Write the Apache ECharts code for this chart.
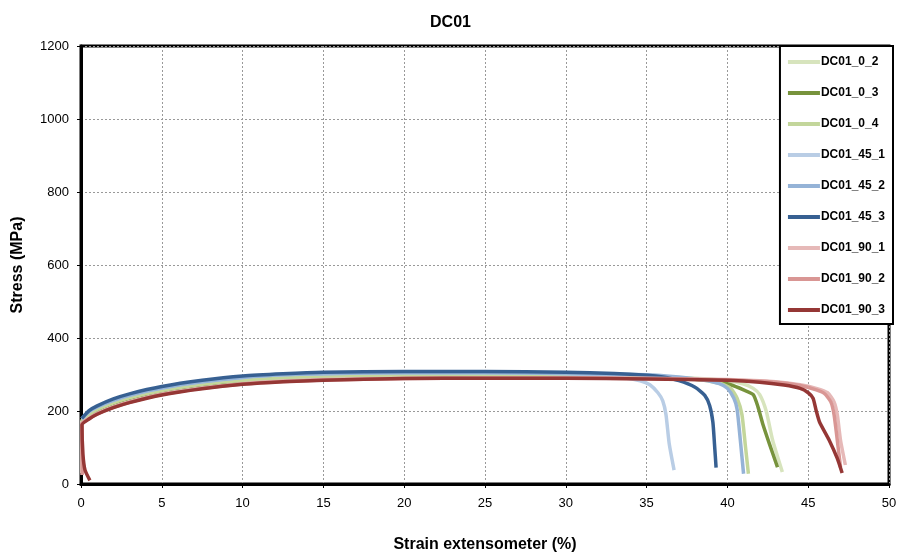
<!DOCTYPE html>
<html>
<head>
<meta charset="utf-8">
<script src="https://cdn.jsdelivr.net/npm/echarts@6/dist/echarts.min.js"></script>
<style>
  html, body { margin: 0; padding: 0; background: #fff; }
  #chart { width: 901px; height: 558px; }
</style>
</head>
<body>
<div id="chart"></div>
<script>
// curves, [strain %, stress MPa]
var names = ['DC01_0_2', 'DC01_0_3', 'DC01_0_4', 'DC01_45_1', 'DC01_45_2', 'DC01_45_3', 'DC01_90_1', 'DC01_90_2', 'DC01_90_3'];
var colors = ['#d7e4bd', '#77933c', '#c3d69b', '#b9cde5', '#95b3d7', '#376092', '#e6b9b8', '#d99694', '#953735'];

var dc01_0_2 = [[0.05,30],[0.05,172],[0.5,190],[1,204],[2,222],[3,236],[5,256],[7.5,273],[10,284],[12.5,290],[15,294],[20,297],[25,298],[30,297],[35,294],[38,290],[40,283],[41,274],[41.6,262],[42,245],[42.4,200],[42.8,120],[43.4,33]];
var dc01_0_3 = [[0.05,172],[0.5,189],[1,203],[2,221],[3,235],[5,255],[7.5,272],[10,283],[12.5,289],[15,293],[20,296],[25,297],[30,296],[35,293],[38,287],[39.2,282],[40.2,272],[41,258],[41.6,245],[41.9,210],[42.2,163],[42.6,110],[43.1,46]];
var dc01_0_4 = [[0.05,172],[0.5,190],[1,204],[2,222],[3,236],[5,256],[7.5,273],[10,284],[12.5,290],[15,294],[20,297],[25,298],[30,297],[35,294],[38,287],[39.5,276],[40.2,262],[40.6,235],[40.9,190],[41.1,110],[41.3,28]];
var dc01_45_1 = [[0.05,178],[0.5,198],[1,211],[2,229],[3,243],[5,263],[7.5,280],[10,292],[12.5,299],[15,302],[20,305],[25,305],[30,302],[32,298],[33.5,292],[34.6,283],[35.2,272],[35.7,250],[36,228],[36.2,190],[36.4,110],[36.7,38]];
var dc01_45_2 = [[0.05,178],[0.5,198],[1,211],[2,229],[3,243],[5,263],[7.5,280],[10,292],[12.5,299],[15,302],[20,305],[25,305],[30,303],[35,299],[37,293],[38.5,285],[39.5,275],[40,262],[40.4,235],[40.6,205],[40.8,120],[41,28]];
var dc01_45_3 = [[0.05,180],[0.5,201],[1,214],[2,233],[3,247],[5,267],[7.5,284],[10,296],[12.5,302],[15,306],[20,308],[25,308],[30,306],[33,303],[35,298],[36,293],[37,283],[38,265],[38.6,243],[38.9,215],[39.1,170],[39.2,110],[39.3,45]];
var dc01_90_1 = [[0.08,25],[0.05,165],[0.5,180],[1,193],[2,211],[3,225],[5,246],[7.5,263],[10,275],[12.5,282],[15,286],[20,290],[25,291],[30,291],[35,290],[40,286],[43,280],[44.5,272],[45.5,262],[46.2,250],[46.6,225],[46.8,190],[47,120],[47.3,52]];
var dc01_90_2 = [[0.08,25],[0.05,165],[0.5,179],[1,192],[2,210],[3,224],[5,245],[7.5,262],[10,274],[12.5,281],[15,285],[20,289],[25,290],[30,290],[35,289],[40,285],[43,279],[44.5,270],[45.5,258],[46,248],[46.4,225],[46.6,190],[46.8,120],[47,46]];
var dc01_90_3 = [[0.55,10],[0.25,38],[0.12,82],[0.06,162],[0.5,178],[1,191],[2,209],[3,223],[5,244],[7.5,261],[10,273],[12.5,280],[15,284],[20,289],[25,290],[30,290],[35,288],[40,284],[42,279],[43.5,271],[44.5,262],[45,250],[45.3,235],[45.5,200],[45.7,170],[46.3,120],[46.8,70],[47.1,30]];

var curves = [dc01_0_2, dc01_0_3, dc01_0_4, dc01_45_1, dc01_45_2, dc01_45_3, dc01_90_1, dc01_90_2, dc01_90_3];

var xTicks = [0, 5, 10, 15, 20, 25, 30, 35, 40, 45, 50];
var yTicks = [0, 200, 400, 600, 800, 1000, 1200];

var myChart = echarts.init(document.getElementById('chart'));

var series = [];
for (var i = 0; i < names.length; i++) {
    series.push({
        name: names[i],
        type: 'line',
        data: curves[i],
        showSymbol: false,
        smooth: 0.2,
        lineStyle: { width: 3.5, color: colors[i] },
        itemStyle: { color: colors[i] }
    });
}

var option = {
    animation: false,
    backgroundColor: '#fff',
    textStyle: { fontFamily: 'Liberation Sans, Arial, sans-serif' },
    title: {
        text: 'DC01',
        left: 'center',
        top: 10,
        textStyle: { fontSize: 16, fontWeight: 'bold', color: '#000' }
    },
    legend: {
        orient: 'vertical',
        right: 8,
        top: 46,
        padding: [10, 8, 8, 8],
        itemGap: 19,
        itemWidth: 32,
        itemHeight: 4,
        icon: 'rect',
        backgroundColor: '#fff',
        borderColor: '#000',
        borderWidth: 2,
        textStyle: { fontSize: 12, fontWeight: 'bold', color: '#000', padding: [0, 0, 0, -4] },
        data: names
    },
    grid: {
        left: 81,
        right: 12,
        top: 46,
        bottom: 71,
        show: true,
        borderColor: '#000',
        borderWidth: 3,
        backgroundColor: '#fff'
    },
    xAxis: {
        type: 'value',
        min: xTicks[0],
        max: xTicks[xTicks.length - 1],
        interval: 5,
        name: 'Strain extensometer (%)',
        nameLocation: 'middle',
        nameGap: 53,
        nameTextStyle: { fontSize: 16, fontWeight: 'bold', color: '#000' },
        axisLine: { show: true, lineStyle: { color: '#000', width: 3 } },
        axisTick: { show: true, length: 4, lineStyle: { color: '#000' } },
        axisLabel: { fontSize: 13, color: '#000', margin: 13 },
        splitLine: { show: true, lineStyle: { color: '#999', type: [2, 2], width: 1 } }
    },
    yAxis: {
        type: 'value',
        min: yTicks[0],
        max: yTicks[yTicks.length - 1],
        interval: 200,
        name: 'Stress (MPa)',
        nameLocation: 'middle',
        nameGap: 55,
        nameRotate: 90,
        nameTextStyle: { fontSize: 16, fontWeight: 'bold', color: '#000' },
        axisLine: { show: true, lineStyle: { color: '#000', width: 3 } },
        axisTick: { show: true, length: 4, lineStyle: { color: '#000' } },
        axisLabel: { fontSize: 13, color: '#000', margin: 12, formatter: function (v) { return String(v); } },
        splitLine: { show: true, lineStyle: { color: '#999', type: [2, 2], width: 1 } }
    },
    series: series
};
myChart.setOption(option);
</script>
</body>
</html>
